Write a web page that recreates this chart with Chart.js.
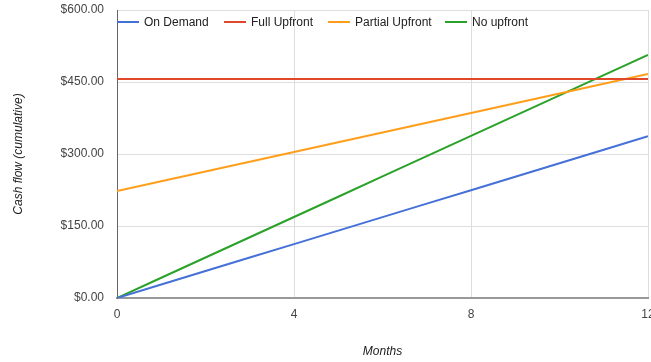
<!DOCTYPE html>
<html>
<head>
<meta charset="utf-8">
<script src="https://cdn.jsdelivr.net/npm/chart.js@4/dist/chart.umd.min.js"></script>
<style>
  html, body { margin: 0; padding: 0; background: #fff; }
  #wrap { width: 651px; height: 362px; position: relative; }
</style>
</head>
<body>
<div id="wrap"><canvas id="c"></canvas></div>
<script>
// Months since purchase
const months = [0, 1, 2, 3, 4, 5, 6, 7, 8, 9, 10, 11, 12];

// Cumulative cash flow per pricing option (USD)
const onDemand      = [0, 28.08, 56.16, 84.24, 112.32, 140.40, 168.48, 196.56, 224.64, 252.72, 280.80, 308.88, 336.96];
const fullUpfront   = [456, 456, 456, 456, 456, 456, 456, 456, 456, 456, 456, 456, 456];
const partialUpfront= [223, 243.3, 263.6, 283.9, 304.2, 324.5, 344.8, 365.1, 385.4, 405.7, 426.0, 446.3, 466.6];
const noUpfront     = [0, 42.2, 84.4, 126.6, 168.8, 211.0, 253.2, 295.4, 337.6, 379.8, 422.0, 464.2, 506.4];

const seriesNames = ['On Demand', 'Full Upfront', 'Partial Upfront', 'No upfront'];
const seriesData  = [onDemand, fullUpfront, partialUpfront, noUpfront];
const seriesColors = ['#4470d8', '#e0482c', '#ff9e1b', '#2aa22a'];

const xTicks = [0, 4, 8, 12];
const yTicks = [0, 150, 300, 450, 600];

const FONT = 'Arial, "Liberation Sans", sans-serif';

const datasets = seriesData.map((vals, i) => ({
  label: seriesNames[i],
  data: vals.map((v, k) => ({ x: months[k], y: v })),
  borderColor: seriesColors[i],
  backgroundColor: seriesColors[i],
  borderWidth: 2,
  pointRadius: 0,
  tension: 0,
  fill: false
}));

// Legend drawn inside the top of the plot area, line swatch + label
const insideLegend = {
  id: 'insideLegend',
  afterDatasetsDraw(chart) {
    const ctx = chart.ctx;
    const area = chart.chartArea;
    const y = area.top + 12;
    const starts = [117, 224, 328, 445];
    ctx.save();
    ctx.font = '12px ' + FONT;
    ctx.textBaseline = 'middle';
    ctx.textAlign = 'left';
    chart.data.datasets.forEach((ds, i) => {
      const x0 = starts[i];
      ctx.strokeStyle = ds.borderColor;
      ctx.lineWidth = 2;
      ctx.beginPath();
      ctx.moveTo(x0, y);
      ctx.lineTo(x0 + 22, y);
      ctx.stroke();
      ctx.fillStyle = '#222';
      ctx.fillText(ds.label, x0 + 27, y + 0.5);
    });
    ctx.restore();
  }
};

new Chart(document.getElementById('c'), {
  type: 'line',
  data: { datasets },
  plugins: [insideLegend],
  options: {
    responsive: true,
    maintainAspectRatio: false,
    animation: false,
    layout: { padding: { top: 10, right: 3, bottom: 0, left: 0 } },
    plugins: {
      legend: { display: false },
      tooltip: { enabled: false }
    },
    scales: {
      x: {
        type: 'linear',
        min: 0,
        max: 12,
        afterBuildTicks(scale) { scale.ticks = xTicks.map(v => ({ value: v })); },
        afterFit(scale) {
          scale.height = 64;
          scale.paddingLeft = 0;
          scale.paddingRight = 0;
        },
        ticks: {
          color: '#444',
          font: { family: FONT, size: 12 },
          padding: 9,
          maxRotation: 0
        },
        grid: { color: '#dddddd', lineWidth: 1, drawTicks: false },
        border: { color: '#999', width: 2 },
        title: {
          display: true,
          text: 'Months',
          color: '#222',
          font: { family: FONT, size: 12, style: 'italic' },
          padding: { top: 0, bottom: 3 }
        }
      },
      y: {
        min: 0,
        max: 600,
        afterBuildTicks(scale) { scale.ticks = yTicks.map(v => ({ value: v })); },
        afterFit(scale) {
          scale.width = 117;
          scale.paddingTop = 0;
          scale.paddingBottom = 0;
        },
        ticks: {
          color: '#444',
          font: { family: FONT, size: 12 },
          padding: 13,
          callback: v => '$' + v.toFixed(2)
        },
        grid: { color: '#dddddd', lineWidth: 1, drawTicks: false },
        border: { color: '#666', width: 1 },
        title: {
          display: true,
          text: 'Cash flow (cumulative)',
          color: '#222',
          font: { family: FONT, size: 12, style: 'italic' },
          padding: { top: 11, bottom: 0 }
        }
      }
    }
  }
});
</script>
</body>
</html>
